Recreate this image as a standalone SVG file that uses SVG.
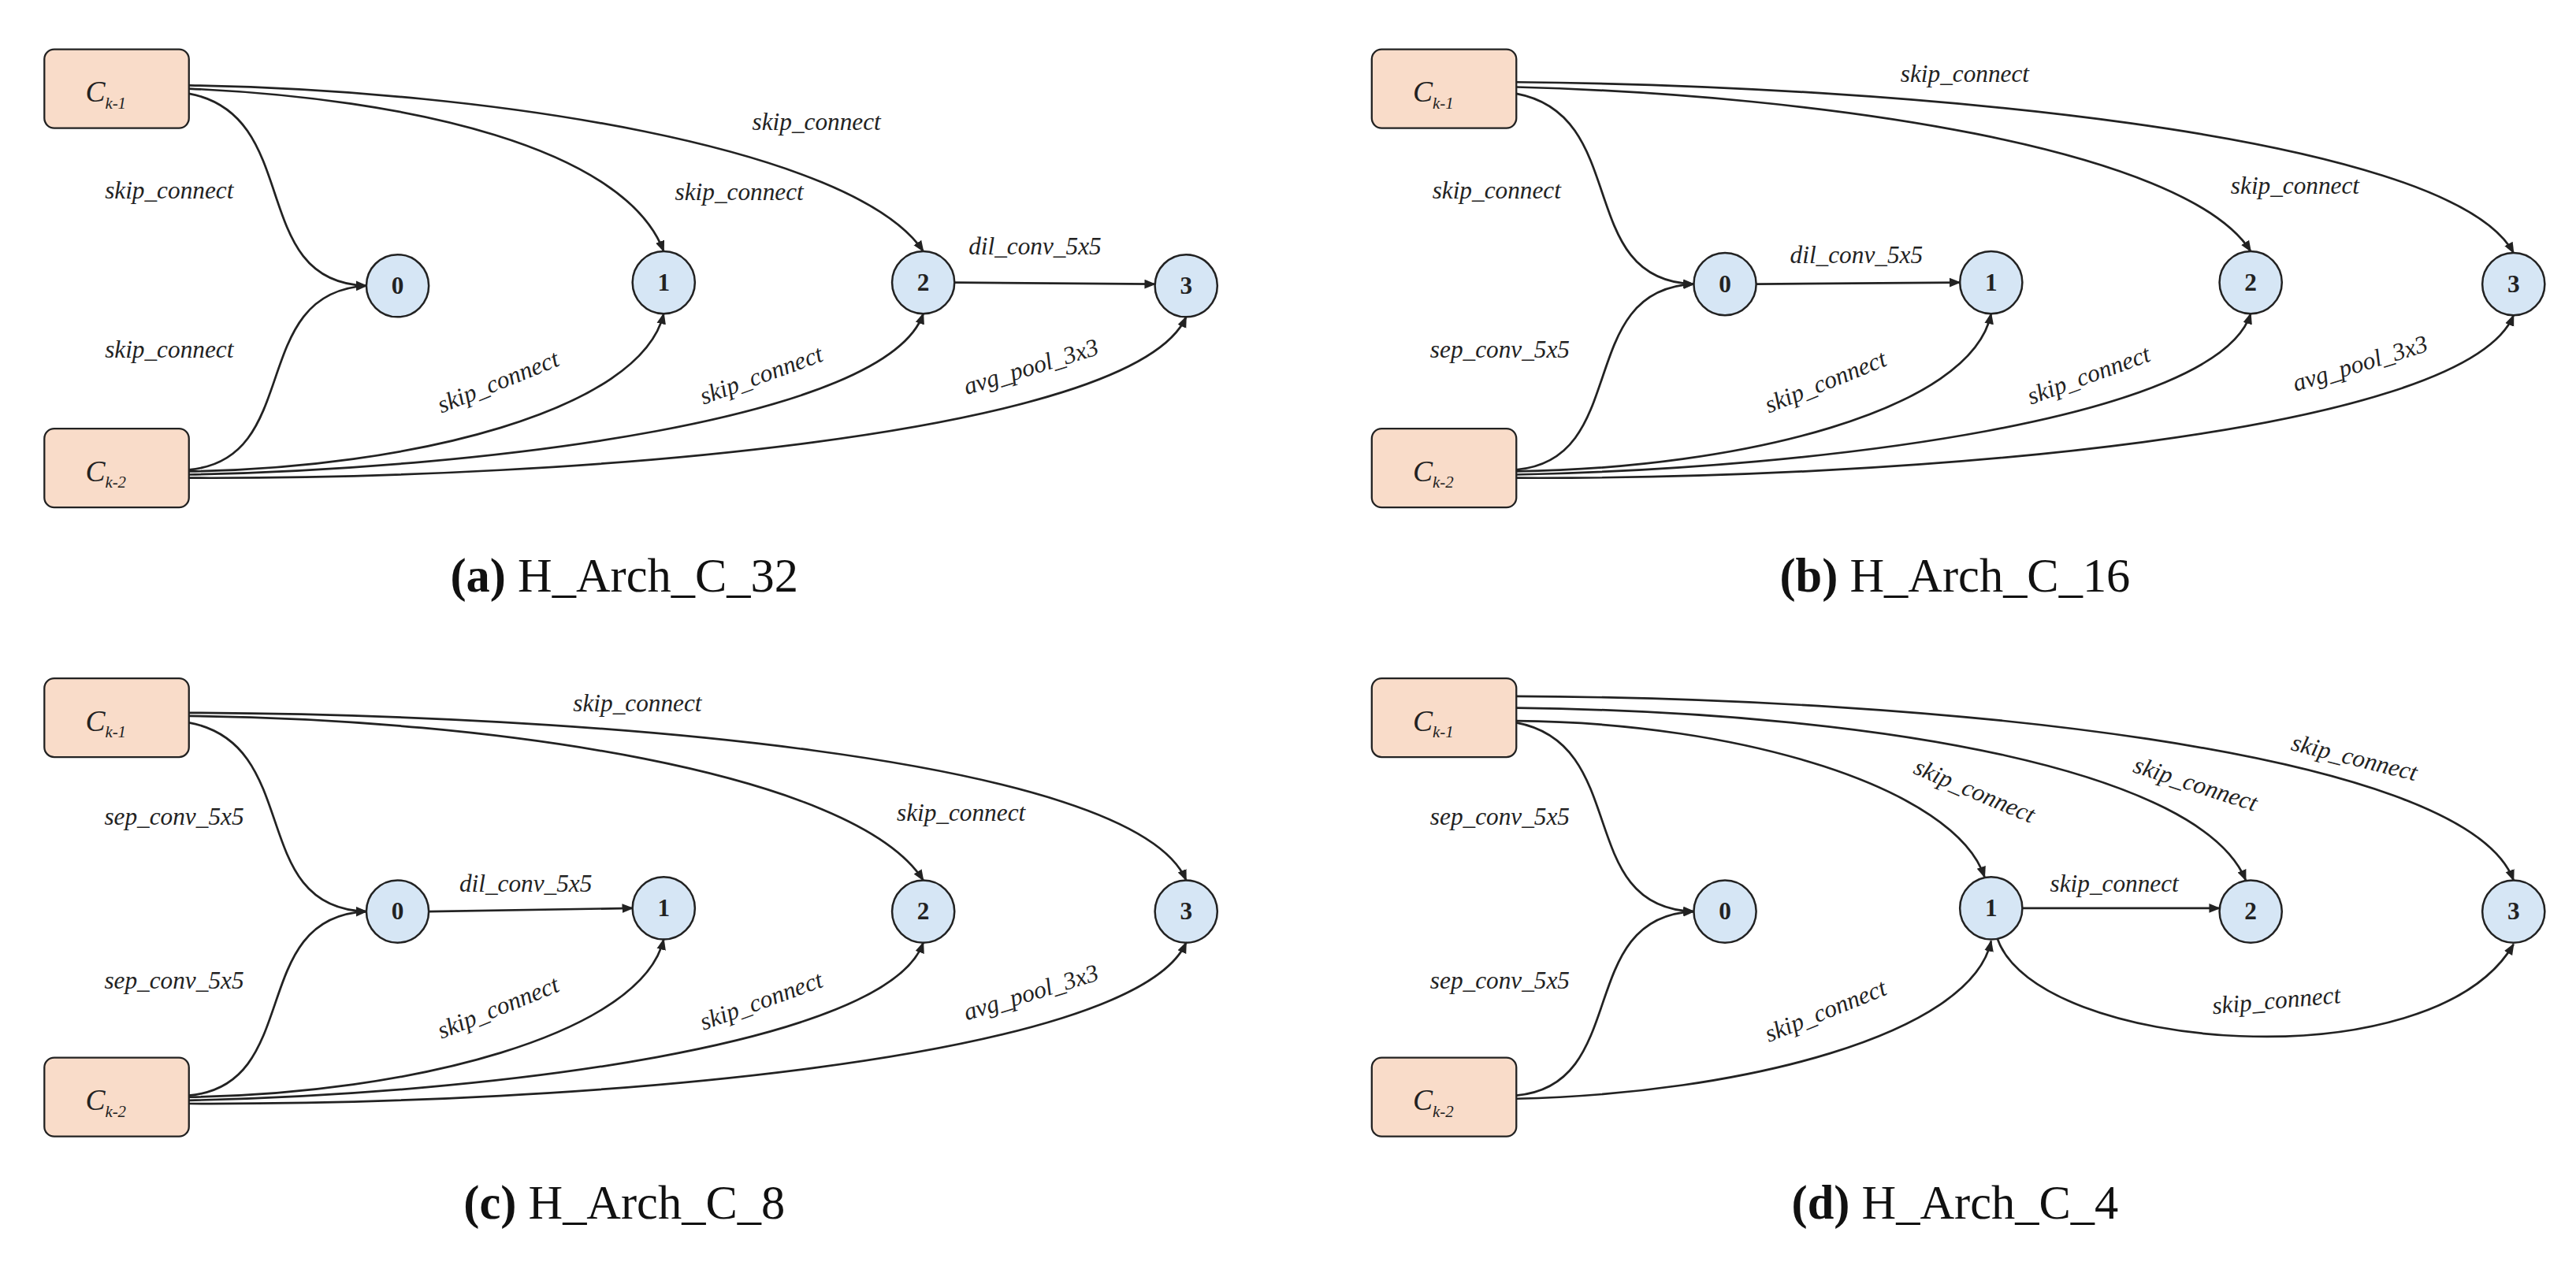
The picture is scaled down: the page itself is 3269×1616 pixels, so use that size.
<svg xmlns="http://www.w3.org/2000/svg" width="3269" height="1616" viewBox="0 0 3269 1616">
<style>
.box{fill:#f9dcc9;stroke:#222;stroke-width:1.1}
.nd{fill:#d6e6f5;stroke:#222;stroke-width:1.2}
.nt{font-family:"Liberation Serif",serif;font-weight:bold;font-size:15px;fill:#222;text-anchor:middle}
.ct{font-family:"Liberation Serif",serif;font-style:italic;font-size:18px;fill:#222}
.e{fill:none;stroke:#222;stroke-width:1.3;marker-end:url(#ah)}
.l{font-family:"Liberation Serif",serif;font-style:italic;font-size:15px;fill:#222;text-anchor:middle}
.cap{font-family:"Liberation Serif",serif;font-size:29px;fill:#111;text-anchor:middle}
</style>
<defs>
<marker id="ah" viewBox="0 0 10 10" refX="9" refY="5" markerWidth="7" markerHeight="7" orient="auto" markerUnits="userSpaceOnUse"><path d="M0,1 L10,5 L0,9 z" fill="#222"/></marker>
</defs>
<rect width="3269" height="1616" fill="#fff"/>
<g transform="scale(2.0848)">
<!-- Panel a -->
<g id="a">
<g id="a-ck1"><rect class="box" x="27" y="30" width="88" height="48" rx="6"/><text class="ct" x="52" y="62">C<tspan font-size="10" dy="4">k-1</tspan></text></g>
<g id="a-ck2"><rect class="box" x="27" y="261" width="88" height="48" rx="6"/><text class="ct" x="52" y="293">C<tspan font-size="10" dy="4">k-2</tspan></text></g>
<g id="a-n0"><circle class="nd" cx="242" cy="174" r="19"/><text class="nt" x="242" y="179">0</text></g>
<g id="a-n1"><circle class="nd" cx="404" cy="172" r="19"/><text class="nt" x="404" y="177">1</text></g>
<g id="a-n2"><circle class="nd" cx="562" cy="172" r="19"/><text class="nt" x="562" y="177">2</text></g>
<g id="a-n3"><circle class="nd" cx="722" cy="174" r="19"/><text class="nt" x="722" y="179">3</text></g>
<g id="a-edges">
<path class="e" d="M115,57 C185,70 150,172 223,174"/>
<path class="e" d="M115,54 C250,60 380,90 404,153"/>
<path class="e" d="M115,52 C300,55 520,90 562,153"/>
<path class="e" d="M115,286 C185,280 150,178 223,174"/>
<path class="e" d="M115,287 C250,285 390,250 404,191"/>
<path class="e" d="M115,289 C300,285 540,255 562,191"/>
<path class="e" d="M115,291 C350,292 690,265 722,193"/>
<path class="e" d="M581,172 L703,173"/>
</g>
<text class="l" x="103" y="121">skip_connect</text>
<text class="l" x="103" y="218">skip_connect</text>
<text class="l" x="450" y="122">skip_connect</text>
<text class="l" x="497" y="79">skip_connect</text>
<text class="l" x="630" y="155">dil_conv_5x5</text>
<text class="l" transform="translate(305,237) rotate(-22)">skip_connect</text>
<text class="l" transform="translate(465,233) rotate(-20)">skip_connect</text>
<text class="l" transform="translate(629,228) rotate(-17)">avg_pool_3x3</text>
<text class="cap" x="380" y="360"><tspan font-weight="bold">(a)</tspan> H_Arch_C_32</text>
</g>
<!-- Panel b -->
<g id="b">
<g id="b-ck1"><rect class="box" x="835" y="30" width="88" height="48" rx="6"/><text class="ct" x="860" y="62">C<tspan font-size="10" dy="4">k-1</tspan></text></g>
<g id="b-ck2"><rect class="box" x="835" y="261" width="88" height="48" rx="6"/><text class="ct" x="860" y="293">C<tspan font-size="10" dy="4">k-2</tspan></text></g>
<g id="b-n0"><circle class="nd" cx="1050" cy="173" r="19"/><text class="nt" x="1050" y="178">0</text></g>
<g id="b-n1"><circle class="nd" cx="1212" cy="172" r="19"/><text class="nt" x="1212" y="177">1</text></g>
<g id="b-n2"><circle class="nd" cx="1370" cy="172" r="19"/><text class="nt" x="1370" y="177">2</text></g>
<g id="b-n3"><circle class="nd" cx="1530" cy="173" r="19"/><text class="nt" x="1530" y="178">3</text></g>
<g id="b-edges">
<path class="e" d="M923,57 C993,70 958,171 1031,173"/>
<path class="e" d="M923,53 C1110,58 1330,90 1370,153"/>
<path class="e" d="M923,50 C1150,52 1490,80 1530,154"/>
<path class="e" d="M923,286 C993,280 958,176 1031,173"/>
<path class="e" d="M1069,173 L1193,172"/>
<path class="e" d="M923,287 C1060,285 1200,250 1212,191"/>
<path class="e" d="M923,289 C1110,285 1350,255 1370,191"/>
<path class="e" d="M923,291 C1160,292 1500,265 1530,192"/>
</g>
<text class="l" x="911" y="121">skip_connect</text>
<text class="l" x="913" y="218">sep_conv_5x5</text>
<text class="l" x="1397" y="118">skip_connect</text>
<text class="l" x="1196" y="50">skip_connect</text>
<text class="l" x="1130" y="160">dil_conv_5x5</text>
<text class="l" transform="translate(1113,237) rotate(-22)">skip_connect</text>
<text class="l" transform="translate(1273,233) rotate(-20)">skip_connect</text>
<text class="l" transform="translate(1438,226) rotate(-17)">avg_pool_3x3</text>
<text class="cap" x="1190" y="360"><tspan font-weight="bold">(b)</tspan> H_Arch_C_16</text>
</g>
<!-- Panel c -->
<g id="c">
<g id="c-ck1"><rect class="box" x="27" y="413" width="88" height="48" rx="6"/><text class="ct" x="52" y="445">C<tspan font-size="10" dy="4">k-1</tspan></text></g>
<g id="c-ck2"><rect class="box" x="27" y="644" width="88" height="48" rx="6"/><text class="ct" x="52" y="676">C<tspan font-size="10" dy="4">k-2</tspan></text></g>
<g id="c-n0"><circle class="nd" cx="242" cy="555" r="19"/><text class="nt" x="242" y="560">0</text></g>
<g id="c-n1"><circle class="nd" cx="404" cy="553" r="19"/><text class="nt" x="404" y="558">1</text></g>
<g id="c-n2"><circle class="nd" cx="562" cy="555" r="19"/><text class="nt" x="562" y="560">2</text></g>
<g id="c-n3"><circle class="nd" cx="722" cy="555" r="19"/><text class="nt" x="722" y="560">3</text></g>
<g id="c-edges">
<path class="e" d="M115,440 C185,453 150,553 223,555"/>
<path class="e" d="M115,436 C300,438 520,470 562,536"/>
<path class="e" d="M115,434 C350,435 690,460 722,536"/>
<path class="e" d="M115,667 C185,661 150,558 223,555"/>
<path class="e" d="M261,555 L385,553"/>
<path class="e" d="M115,668 C250,666 390,630 404,572"/>
<path class="e" d="M115,670 C300,666 540,636 562,574"/>
<path class="e" d="M115,672 C350,673 690,646 722,574"/>
</g>
<text class="l" x="106" y="502">sep_conv_5x5</text>
<text class="l" x="106" y="602">sep_conv_5x5</text>
<text class="l" x="585" y="500">skip_connect</text>
<text class="l" x="388" y="433">skip_connect</text>
<text class="l" x="320" y="543">dil_conv_5x5</text>
<text class="l" transform="translate(305,618) rotate(-22)">skip_connect</text>
<text class="l" transform="translate(465,614) rotate(-20)">skip_connect</text>
<text class="l" transform="translate(629,609) rotate(-17)">avg_pool_3x3</text>
<text class="cap" x="380" y="742"><tspan font-weight="bold">(c)</tspan> H_Arch_C_8</text>
</g>
<!-- Panel d -->
<g id="d">
<g id="d-ck1"><rect class="box" x="835" y="413" width="88" height="48" rx="6"/><text class="ct" x="860" y="445">C<tspan font-size="10" dy="4">k-1</tspan></text></g>
<g id="d-ck2"><rect class="box" x="835" y="644" width="88" height="48" rx="6"/><text class="ct" x="860" y="676">C<tspan font-size="10" dy="4">k-2</tspan></text></g>
<g id="d-n0"><circle class="nd" cx="1050" cy="555" r="19"/><text class="nt" x="1050" y="560">0</text></g>
<g id="d-n1"><circle class="nd" cx="1212" cy="553" r="19"/><text class="nt" x="1212" y="558">1</text></g>
<g id="d-n2"><circle class="nd" cx="1370" cy="555" r="19"/><text class="nt" x="1370" y="560">2</text></g>
<g id="d-n3"><circle class="nd" cx="1530" cy="555" r="19"/><text class="nt" x="1530" y="560">3</text></g>
<g id="d-edges">
<path class="e" d="M923,440 C993,453 958,553 1031,555"/>
<path class="e" d="M923,439 C1060,440 1190,480 1208,534"/>
<path class="e" d="M923,431 C1150,434 1340,470 1367,536"/>
<path class="e" d="M923,424 C1170,425 1500,455 1530,536"/>
<path class="e" d="M923,667 C993,661 958,558 1031,555"/>
<path class="e" d="M1231,553 L1351,553"/>
<path class="e" d="M923,669 C1060,666 1200,630 1212,573"/>
<path class="e" d="M1216,572 C1240,640 1480,660 1530,575"/>
</g>
<text class="l" x="913" y="502">sep_conv_5x5</text>
<text class="l" x="913" y="602">sep_conv_5x5</text>
<text class="l" transform="translate(1200,486) rotate(23)">skip_connect</text>
<text class="l" transform="translate(1335,482) rotate(18)">skip_connect</text>
<text class="l" transform="translate(1432,466) rotate(14)">skip_connect</text>
<text class="l" x="1287" y="543">skip_connect</text>
<text class="l" transform="translate(1113,620) rotate(-22)">skip_connect</text>
<text class="l" transform="translate(1386,614) rotate(-5)">skip_connect</text>
<text class="cap" x="1190" y="742"><tspan font-weight="bold">(d)</tspan> H_Arch_C_4</text>
</g>
</g>
</svg>
